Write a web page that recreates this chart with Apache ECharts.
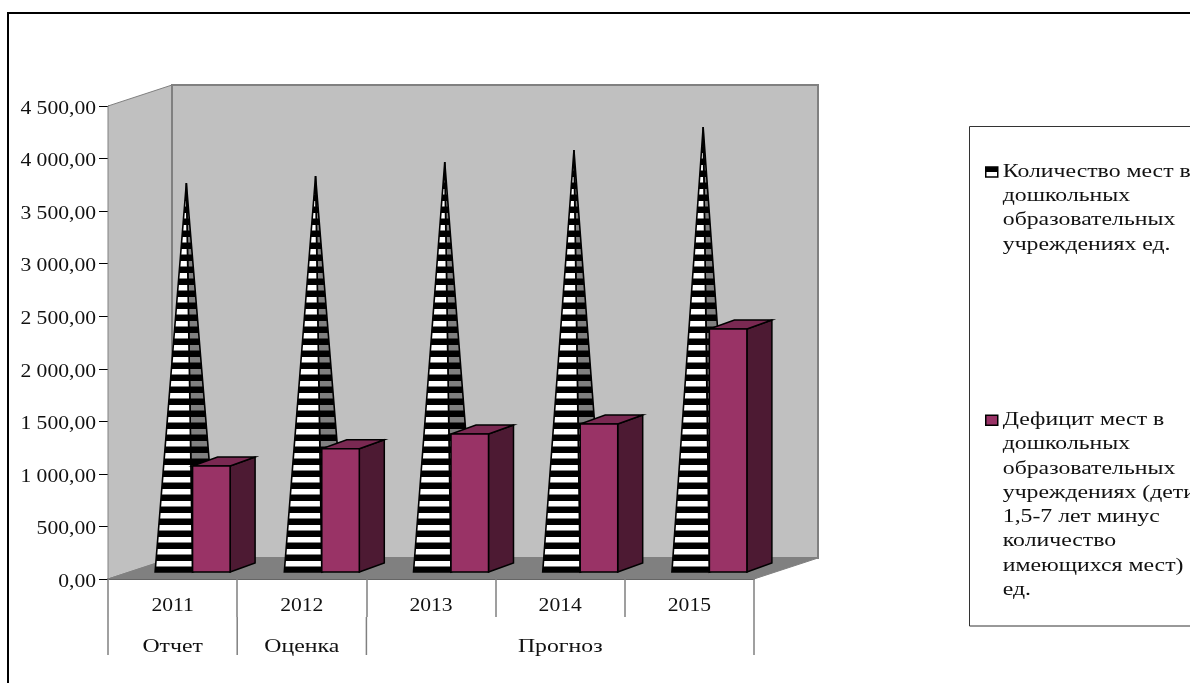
<!DOCTYPE html>
<html><head><meta charset="utf-8">
<style>html,body{margin:0;padding:0;background:#fff;overflow:hidden}#c{width:1190px;height:683px}</style>
<script src="https://cdn.jsdelivr.net/npm/echarts@6/dist/echarts.min.js"></script>
</head><body><div id="c"></div>
<script>
const categories = ['2011','2012','2013','2014','2015'];
const groupLabels = ['Отчет','Оценка','','Прогноз',''];
const groupBoundaries = [0,1,2,5];
const seatCount = [3658,3725,3858,3972,4191];
const seatDeficit = [1008,1173,1313,1408,2312];
const seatName = 'Количество мест в дошкольных образовательных учреждениях ед.';
const deficitName = 'Дефицит мест в дошкольных образовательных учреждениях (дети 1,5-7 лет минус количество имеющихся мест) ед.';
const seatLines = ['Количество мест в','дошкольных','образовательных','учреждениях ед.'];
const deficitLines = ['Дефицит мест в','дошкольных','образовательных','учреждениях (дети','1,5-7 лет минус','количество','имеющихся мест)','ед.'];

// The reference's text is a horizontally stretched Times: widen glyphs about their anchor.
const proto = CanvasRenderingContext2D.prototype, origFill = proto.fillText;
proto.fillText = function(t, x, y, m) {
  const sx = /[А-Яа-яЁё]/.test(t) ? 1.32 : 1.2;
  this.save(); this.translate(x, y); this.scale(sx, 1);
  origFill.call(this, t, 0, 0, m);
  this.restore();
};

const FONT = '"Liberation Serif","Times New Roman",serif';
const WALL_DX = 64, WALL_DY = 21;
const FRONT = [20, 7], BACK = [45, 16];
const COL_W = 37.5;

function stripes(light) {
  const c = document.createElement('canvas');
  c.width = 4; c.height = 12;
  const g = c.getContext('2d');
  g.fillStyle = '#000'; g.fillRect(0,0,4,12);
  g.fillStyle = light;
  g.fillRect(0,9,4,3); g.fillRect(0,0,4,2.5);
  return {image:c, repeat:'repeat'};
}
const whiteStripes = stripes('#fff'), greyStripes = stripes('#808080');

const poly = (points, fill, stroke, lw) => ({type:'polygon', shape:{points}, style:{fill, stroke, lineWidth:lw, lineJoin:'miter'}});

function renderWalls(params, api) {
  const band = api.size([1,0])[0];
  const a = api.coord([0,0]), b = api.coord([4,0]), t = api.coord([0,4500]);
  const x0 = a[0]-band/2, x1 = b[0]+band/2, y0 = a[1], y1 = t[1];
  const line = '#808080';
  return {type:'group', children:[
    poly([[x0,y1],[x0+WALL_DX,y1-WALL_DY],[x0+WALL_DX,y0-WALL_DY],[x0,y0]], '#c0c0c0', line, 1),
    poly([[x0+WALL_DX,y1-WALL_DY],[x1+WALL_DX,y1-WALL_DY],[x1+WALL_DX,y0-WALL_DY],[x0+WALL_DX,y0-WALL_DY]], '#c0c0c0', line, 2),
    poly([[x0,y0],[x1,y0],[x1+WALL_DX,y0-WALL_DY],[x0+WALL_DX,y0-WALL_DY]], '#808080', '#808080', 1)
  ]};
}
function renderPyramid(params, api) {
  const i = api.value(0), p = api.coord([i, api.value(1)]), z = api.coord([i,0]);
  const L = z[0]-COL_W, R = z[0], y = z[1];
  const apex = [(L+R)/2+(FRONT[0]+BACK[0])/2, p[1]-(FRONT[1]+BACK[1])/2];
  const fl = [L+FRONT[0], y-FRONT[1]], fr = [R+FRONT[0], y-FRONT[1]], br = [R+BACK[0], y-BACK[1]];
  return {type:'group', children:[
    poly([fr,br,apex], greyStripes, '#000', 1.6),
    poly([fl,fr,apex], whiteStripes, '#000', 1.6)
  ]};
}
function renderBox(params, api) {
  const i = api.value(0), p = api.coord([i, api.value(1)]), z = api.coord([i,0]);
  const L = z[0], R = z[0]+COL_W, y = z[1], t = p[1];
  const fl=[L+FRONT[0],y-FRONT[1]], fr=[R+FRONT[0],y-FRONT[1]], br=[R+BACK[0],y-BACK[1]];
  const tl=[L+FRONT[0],t-FRONT[1]], tr=[R+FRONT[0],t-FRONT[1]], tbr=[R+BACK[0],t-BACK[1]], tbl=[L+BACK[0],t-BACK[1]];
  return {type:'group', children:[
    poly([fr,br,tbr,tr], '#4d1a33', '#000', 1.5),
    poly([tl,tr,tbr,tbl], '#7a2952', '#000', 1.5),
    poly([fl,fr,tr,tl], '#993366', '#000', 1.5)
  ]};
}
function renderDivider(params, api) {
  const band = api.size([1,0])[0];
  const a = api.coord([0,0]);
  const x = a[0]-band/2+api.value(0)*band;
  return {type:'line', shape:{x1:x,y1:a[1]+38,x2:x,y2:a[1]+76}, style:{stroke:'#808080',lineWidth:1.5}};
}
const blank = n => '\n'.repeat(n);
const legendText = { fontFamily:FONT, fontSize:18, lineHeight:24.3, color:'#111' };

const chart = echarts.init(document.getElementById('c'), null, {renderer:'canvas', devicePixelRatio:1});
chart.setOption({
  animation:false,
  backgroundColor:'#fff',
  textStyle:{fontFamily:FONT},
  grid:{left:108, right:436, top:106, bottom:104, containLabel:false},
  legend:[
    {data:[seatName], orient:'vertical', left:985, top:87, padding:0, selectedMode:false, icon:'rect', itemWidth:12, itemHeight:10,
     itemStyle:{color:{type:'linear',x:0,y:0,x2:0,y2:1,colorStops:[{offset:0,color:'#000'},{offset:.5,color:'#000'},{offset:.5,color:'#fff'},{offset:1,color:'#fff'}]},borderColor:'#000',borderWidth:1.5},
     textStyle:legendText, formatter:()=>blank(3)+seatLines.join('\n')},
    {data:[deficitName], orient:'vertical', left:985, top:238, padding:0, selectedMode:false, icon:'rect', itemWidth:12, itemHeight:10,
     itemStyle:{color:'#993366',borderColor:'#000',borderWidth:1.5},
     textStyle:legendText, formatter:()=>blank(7)+deficitLines.join('\n')}
  ],
  xAxis:[
    {type:'category', data:categories, position:'bottom',
     axisLine:{lineStyle:{color:'#111',width:1.5}},
     axisTick:{show:true, length:38, alignWithLabel:false, lineStyle:{color:'#808080',width:1.5}},
     axisLabel:{interval:0, margin:18, color:'#111', fontFamily:FONT, fontSize:18}},
    {type:'category', data:groupLabels, position:'bottom',
     axisLine:{show:false}, axisTick:{show:false},
     axisLabel:{interval:0, margin:59, color:'#111', fontFamily:FONT, fontSize:18}}
  ],
  yAxis:{type:'value', min:0, max:4500, interval:500,
    axisLine:{show:true,lineStyle:{color:'#000',width:1}},
    axisTick:{show:true,length:9,lineStyle:{color:'#000',width:1}},
    splitLine:{show:false},
    axisLabel:{margin:12,color:'#111',fontFamily:FONT,fontSize:18,verticalAlign:'top',lineHeight:6,
      formatter:v=>String(v).replace(/\B(?=(\d{3})+$)/,' ')+',00'}},
  series:[
    {type:'custom', name:'walls', coordinateSystem:'cartesian2d', clip:false, silent:true, z:1, renderItem:renderWalls, data:[[0,0]]},
    {type:'custom', name:'dividers', coordinateSystem:'cartesian2d', clip:false, silent:true, z:1, renderItem:renderDivider, data:groupBoundaries.map(b=>[b,0])},
    {type:'custom', name:seatName, coordinateSystem:'cartesian2d', clip:false, z:2, renderItem:renderPyramid, itemStyle:{color:'#000'}, data:categories.map((c,i)=>[i,seatCount[i]])},
    {type:'custom', name:deficitName, coordinateSystem:'cartesian2d', clip:false, z:3, renderItem:renderBox, itemStyle:{color:'#993366'}, data:categories.map((c,i)=>[i,seatDeficit[i]])}
  ],
  graphic:[
    {type:'polyline', z:-1, silent:true, shape:{points:[[8,683],[8,13],[1190,13]]}, style:{stroke:'#000',lineWidth:2,fill:null}},
    {type:'rect', z:-1, silent:true, shape:{x:969.5,y:126.5,width:300,height:499.5}, style:{fill:'#fff',stroke:'#333',lineWidth:1}}
  ]
});
</script></body></html>
